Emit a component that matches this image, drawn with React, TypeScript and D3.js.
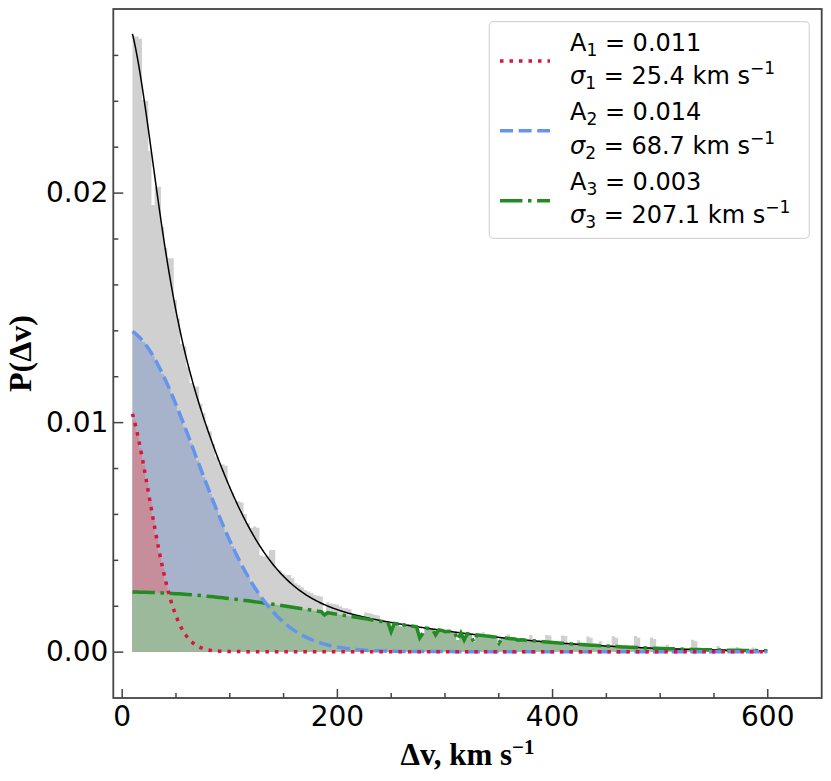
import React, { useEffect, useRef } from 'react';
import * as d3 from 'd3';

// histogram of velocity differences, 200 bins between 10 and 600 km/s
// heights in units of 1e-5
const binStart = 10;
const binEnd = 600;
const histCounts = [
  2680, 2680, 2670, 2404, 2400, 2180, 1946, 2026, 2026, 1850,
  1760, 1714, 1714, 1532, 1450, 1340, 1330, 1240, 1170, 1155,
  1155, 1080, 1040, 985, 960, 905, 850, 820, 815, 810,
  720, 690, 655, 655, 650, 600, 560, 540, 545, 540,
  420, 414, 414, 443, 443, 360, 355, 340, 334, 334,
  320, 298, 290, 280, 268, 262, 255, 247, 243, 240,
  160, 215, 210, 208, 205, 198, 189, 189, 185, 166,
  162, 158, 150, 170, 168, 165, 160, 158, 140, 136,
  132, 87, 128, 125, 109, 122, 118, 120, 113, 110,
  60, 80, 108, 104, 100, 73, 99, 96, 87, 94,
  92, 89, 51, 86, 51, 82, 80, 42, 76, 74,
  85, 70, 69, 67, 65, 38, 62, 61, 75, 58,
  57, 50, 56, 52, 47, 72, 50, 48, 47, 46,
  73, 70, 44, 42, 41, 70, 68, 40, 39, 38,
  50, 37, 35, 66, 60, 33, 32, 45, 30, 29,
  28, 67, 60, 26, 25, 25, 24, 23, 68, 60,
  21, 20, 20, 62, 55, 18, 17, 17, 30, 16,
  15, 15, 14, 14, 13, 13, 52, 45, 12, 11,
  11, 10, 10, 10, 25, 9, 9, 8, 8, 8,
  20, 7, 7, 7, 6, 18, 6, 6, 5, 5,
];

// fitted gaussian components (red, blue, green)
const amplitudes = [0.0112, 0.0141, 0.0026];
const sigmas = [25.4, 68.7, 207.1];
const legendA = ['0.011', '0.014', '0.003'];
const legendSigma = ['25.4', '68.7', '207.1'];
const lineColors = ['#dc143c', '#6495ed', '#228b22'];
const fillColors = ['#c68e9b', '#a6b3cb', '#9bb99b'];
const dashes = ['3.5,6', '13,5.6', '22.4,5.6,3.5,5.6'];

const xMajor = [0, 200, 400, 600];
const xMinor = [50, 100, 150, 250, 300, 350, 450, 500, 550];
const yMajor = [0, 0.01, 0.02];
const yMinor = [0.002, 0.004, 0.006, 0.008, 0.012, 0.014, 0.016, 0.018, 0.022, 0.024, 0.026];

const App: React.FC = () => {
  const svgRef = useRef<SVGSVGElement>(null);

  useEffect(() => {
    if (!svgRef.current) return;
    const svg = d3.select(svgRef.current);
    svg.selectAll('*').remove();

    const left = 113.3, right = 821.7, top = 9, bottom = 698;
    const x = d3.scaleLinear().domain([-7.8, 650.6]).range([left, right]);
    const y = d3.scaleLinear().domain([-0.00202, 0.028]).range([bottom, top]);

    const n = histCounts.length;
    const binWidth = (binEnd - binStart) / n;
    const hist = histCounts.map(v => v * 1e-5);
    const edges = d3.range(n + 1).map(i => binStart + i * binWidth);
    const centers = hist.map((_, i) => binStart + (i + 0.5) * binWidth);
    const gauss = (k: number, v: number) =>
      amplitudes[k] * Math.exp(-(v * v) / (2 * sigmas[k] * sigmas[k]));

    const stepArea = d3.area<[number, number]>()
      .curve(d3.curveStepAfter)
      .x(d => x(d[0]))
      .y0(y(0))
      .y1(d => y(d[1]));
    const stepPts = (vals: number[]): [number, number][] =>
      [...vals.map((v, i) => [edges[i], v] as [number, number]), [binEnd, vals[n - 1]]];

    // histogram
    svg.append('path')
      .attr('d', stepArea(stepPts(hist)))
      .attr('fill', '#d0d0d0');

    // component fills, under the histogram
    [1, 0, 2].forEach(k => {
      const vals = hist.map((h, i) => Math.min(h, gauss(k, centers[i])));
      svg.append('path')
        .attr('d', stepArea(stepPts(vals)))
        .attr('fill', fillColors[k]);
    });

    const line = d3.line<[number, number]>()
      .x(d => x(d[0]))
      .y(d => y(d[1]));

    // total model
    const total = d3.range(binStart, binEnd + 0.5, 1)
      .map(v => [v, gauss(0, v) + gauss(1, v) + gauss(2, v)] as [number, number]);
    svg.append('path')
      .attr('d', line(total))
      .attr('fill', 'none')
      .attr('stroke', '#000')
      .attr('stroke-width', 1.5);

    // component lines
    [2, 1, 0].forEach(k => {
      const pts: [number, number][] = [
        [binStart, Math.min(hist[0], gauss(k, binStart))],
        ...centers.map((c, i) => [c, Math.min(hist[i], gauss(k, c))] as [number, number]),
        [binEnd, Math.min(hist[n - 1], gauss(k, binEnd))],
      ];
      svg.append('path')
        .attr('d', line(pts))
        .attr('fill', 'none')
        .attr('stroke', lineColors[k])
        .attr('stroke-width', 3.5)
        .attr('stroke-dasharray', dashes[k]);
    });

    // axes, ticks inward
    const styleAxis = (g: d3.Selection<SVGGElement, unknown, null, undefined>) => {
      g.select('.domain').remove();
      g.selectAll('line').attr('stroke', '#444').attr('stroke-width', 1.5);
      g.selectAll('text')
        .attr('fill', '#000')
        .style('font-family', '"DejaVu Sans", sans-serif')
        .style('font-size', '28px');
    };

    svg.append('g')
      .attr('transform', `translate(0,${bottom})`)
      .call(d3.axisBottom(x).tickValues(xMajor).tickSize(-9).tickPadding(8).tickFormat(d3.format('d')))
      .call(styleAxis);
    svg.append('g')
      .attr('transform', `translate(0,${bottom})`)
      .call(d3.axisBottom(x).tickValues(xMinor).tickSize(-5).tickFormat(() => ''))
      .call(styleAxis);
    svg.append('g')
      .attr('transform', `translate(${left},0)`)
      .call(d3.axisLeft(y).tickValues(yMajor).tickSize(-10).tickPadding(5).tickFormat(d3.format('.2f')))
      .call(styleAxis);
    svg.append('g')
      .attr('transform', `translate(${left},0)`)
      .call(d3.axisLeft(y).tickValues(yMinor).tickSize(-5).tickFormat(() => ''))
      .call(styleAxis);

    // frame
    svg.append('rect')
      .attr('x', left)
      .attr('y', top)
      .attr('width', right - left)
      .attr('height', bottom - top)
      .attr('fill', 'none')
      .attr('stroke', '#444')
      .attr('stroke-width', 1.8);

    // axis labels
    const xl = svg.append('text')
      .attr('x', (left + right) / 2)
      .attr('y', 765)
      .attr('text-anchor', 'middle')
      .style('font-family', '"Liberation Serif", serif')
      .style('font-weight', 'bold')
      .style('font-size', '31px');
    xl.append('tspan').text('Δv, km s');
    xl.append('tspan').attr('dy', -11).style('font-size', '21px').text('−1');

    svg.append('text')
      .attr('transform', `translate(31,${(top + bottom) / 2}) rotate(-90)`)
      .attr('text-anchor', 'middle')
      .style('font-family', '"Liberation Serif", serif')
      .style('font-weight', 'bold')
      .style('font-size', '32px')
      .text('P(Δv)');

    // legend
    const lg = svg.append('g');
    lg.append('rect')
      .attr('x', 489.3)
      .attr('y', 21.7)
      .attr('width', 320)
      .attr('height', 216.6)
      .attr('rx', 4)
      .attr('fill', '#fff')
      .attr('fill-opacity', 0.8)
      .attr('stroke', '#d6d6d6')
      .attr('stroke-width', 1.2);

    lineColors.forEach((c, k) => {
      const ly = 61 + 69.85 * k;
      lg.append('line')
        .attr('x1', 500).attr('x2', 550)
        .attr('y1', ly).attr('y2', ly)
        .attr('stroke', c)
        .attr('stroke-width', 3.5)
        .attr('stroke-dasharray', dashes[k]);

      const base = 50.7 + 69.7 * k;
      const t1 = lg.append('text')
        .attr('x', 570).attr('y', base)
        .style('font-family', '"DejaVu Sans", sans-serif')
        .style('font-size', '24px');
      t1.append('tspan').text('A');
      t1.append('tspan').attr('dy', 5).style('font-size', '17px').text(String(k + 1));
      t1.append('tspan').attr('dy', -5).text(` = ${legendA[k]}`);

      const t2 = lg.append('text')
        .attr('x', 570).attr('y', base + 33.3)
        .style('font-family', '"DejaVu Sans", sans-serif')
        .style('font-size', '24px');
      t2.append('tspan').style('font-style', 'italic').text('σ');
      t2.append('tspan').attr('dy', 5).style('font-size', '17px').text(String(k + 1));
      t2.append('tspan').attr('dy', -5).text(` = ${legendSigma[k]} km s`);
      t2.append('tspan').attr('dy', -10).style('font-size', '17px').text('−1');
    });
  }, []);

  return (
    <svg
      ref={svgRef}
      width={831}
      height={781}
      style={{ position: 'absolute', left: 0, top: 0, background: '#fff' }}
    />
  );
};

export default App;
